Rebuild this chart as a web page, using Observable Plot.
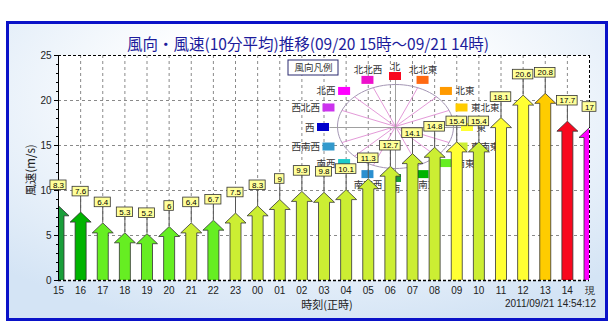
<!DOCTYPE html>
<html><head><meta charset="utf-8">
<script src="https://cdn.jsdelivr.net/npm/d3@7"></script>
<script src="https://cdn.jsdelivr.net/npm/@observablehq/plot@0.6"></script>
<style>
body{margin:0;background:#fff;}
#wrap{position:relative;width:616px;height:331px;overflow:hidden;font-family:"Noto Sans CJK JP",sans-serif;}
#frame{position:absolute;left:6px;top:21px;width:596px;height:294px;border:3px solid #0a12c8;
  background:radial-gradient(ellipse 75% 80% at 50% 25%, #ffffff 35%, #d4e4f5 100%);}
#chart{position:absolute;left:0;top:0;}
.t{position:absolute;white-space:nowrap;line-height:1;}
#title{left:0;width:616px;text-align:center;top:36px;font-size:15.5px;color:#1c1c9c;}
#ylab{left:31px;top:170px;font-size:11.5px;color:#222;transform:translate(-50%,-50%) rotate(-90deg);}
#xlab{left:327px;top:304px;font-size:11px;color:#222;transform:translate(-50%,-50%);}
#stamp{right:20px;top:299px;font-size:10px;color:#222;font-family:"Liberation Sans",Arial,sans-serif;}
</style></head>
<body>
<div id="wrap">
  <div id="frame"></div>
  <div id="chart"></div>
  <div class="t" id="title">風向・風速(10分平均)推移(09/20 15時～09/21 14時)</div>
  <div class="t" id="ylab">風速(m/s)</div>
  <div class="t" id="xlab">時刻(正時)</div>
  <div class="t" id="stamp">2011/09/21 14:54:12</div>
</div>
<script>
const hours = ["15","16","17","18","19","20","21","22","23","00","01","02","03","04","05","06","07","08","09","10","11","12","13","14","現"];
const speeds = [8.3,7.6,6.4,5.3,5.2,6,6.4,6.7,7.5,8.3,9,9.9,9.8,10.1,11.3,12.7,14.1,14.8,15.4,15.4,18.1,20.6,20.8,17.7,17];
const directions = ["南","南南東","南東","南東","南東","南東","東南東","南東","東南東","東南東","東南東","東南東","東南東","東南東","東南東","東南東","東南東","東南東","東","東南東","東","東","東北東","北","北西"];
const dirNames = ["北","北北東","北東","東北東","東","東南東","南東","南南東","南","南南西","南西","西南西","西","西北西","北西","北北西"];
const dirColors = ["#f8081e","#ff6a12","#ff9a00","#ffcc00","#ffff33","#ccee33","#66ee22","#00b400","#1a9e3a","#2a8fd0","#1ccaca","#3399cc","#0000cc","#cc33ee","#ff00ff","#ee11cc"];
const yTicks = [0,5,10,15,20,25];
const legendTitle = "風向凡例";

const W=616,H=331,mL=58,mR=27,mT=55,mB=51;
const n = hours.length;
const kx=(W-mL-mR)/(n-1), ky=(H-mT-mB)/25;
const X = px => (px-mL)/kx, Y = py => (H-mB-py)/ky;
const colorOf = d => dirColors[dirNames.indexOf(d)];

// arrows
const shaftHalf=5.5/kx, headHalf=10.5/kx, headLen=10/ky;
const arrowPts = speeds.flatMap((v,i)=>{
  const b=v-headLen, c=colorOf(directions[i]);
  return [[i-shaftHalf,0],[i-shaftHalf,b],[i-headHalf,b],[i,v],[i+headHalf,b],[i+shaftHalf,b],[i+shaftHalf,0],[i-shaftHalf,0]]
    .map(([x,y])=>({x,y,i,c}));
});
// value label boxes
const labelW = s => [...s].reduce((a,ch)=>a+(ch==="."?2.2:4.45),0)+5;
const boxes = speeds.map((v,i)=>{const s=String(v),hw=labelW(s)/2/kx,cy=v+20.5/ky;
  return {i,v,s,x1:i-hw,x2:i+hw,y1:cy-4.8/ky,y2:cy+4.8/ky,cy,top:cy-4.8/ky};});

// legend layout (pixel geometry converted to data units)
const lcx=395, lcy=126;
const ell = d3.range(0,361,4).map(a=>{const t=a*Math.PI/180;return {x:X(lcx+58*Math.sin(t)),y:Y(lcy-42*Math.cos(t))};});
const legend = dirNames.map((name,k)=>{
  const t=k*Math.PI/8, sx=lcx+72*Math.sin(t), sy=lcy+1-51*Math.cos(t);
  const side=(k<=1||k===15)?"top":(k<=6)?"right":(k<=9)?"bottom":"left";
  let tx=sx,ty=sy;
  if(side==="top") ty=sy-10; else if(side==="bottom") ty=sy+10;
  else if(side==="right") tx=sx+9; else tx=sx-9;
  return {name,side,color:dirColors[k],x1:X(sx-6),x2:X(sx+6),y1:Y(sy+4),y2:Y(sy-4),
    tx:X(tx),ty:Y(ty),ex:X(lcx+58*Math.sin(t)),ey:Y(lcy-42*Math.cos(t)),k};
});
const spokes = legend.filter(d=>d.k%4!==0);
const cross = [{x1:X(lcx),y1:Y(lcy-47),x2:X(lcx),y2:Y(lcy+48)},{x1:X(lcx-66),y1:Y(lcy+1),x2:X(lcx+66),y2:Y(lcy+1)}];
const dash={strokeDasharray:"3,3",stroke:"#8a8a8a",strokeOpacity:1};
const legText = {x:"tx",y:"ty",text:"name",fill:"#333",fontSize:9.5,fontFamily:"Noto Sans CJK JP"};

const chart = Plot.plot({
  width:W,height:H,marginLeft:mL,marginRight:mR,marginTop:mT,marginBottom:mB,
  x:{type:"linear",domain:[0,n-1]},
  y:{domain:[0,25]},
  color:{type:"identity"},
  style:{background:"transparent",fontFamily:"'Liberation Sans',Arial,sans-serif",fontSize:"10px",overflow:"visible"},
  marks:[
    Plot.frame({fill:"white",stroke:"none"}),
    Plot.gridX(d3.range(1,n-1),dash),
    Plot.gridY([5,10,15,20],dash),
    // legend
    Plot.line(ell,{x:"x",y:"y",stroke:"#9a8aac",strokeWidth:0.9}),
    Plot.link(spokes,{x1:X(lcx),y1:Y(lcy),x2:"ex",y2:"ey",stroke:"#e08ed4",strokeWidth:0.9}),
    Plot.link(cross,{x1:"x1",y1:"y1",x2:"x2",y2:"y2",stroke:"#a0a0a0",strokeWidth:1}),
    Plot.rect(legend,{x1:"x1",x2:"x2",y1:"y1",y2:"y2",fill:"color"}),
    Plot.text(legend.filter(d=>d.side==="top"||d.side==="bottom"),{...legText,textAnchor:"middle"}),
    Plot.text(legend.filter(d=>d.side==="right"),{...legText,textAnchor:"start"}),
    Plot.text(legend.filter(d=>d.side==="left"),{...legText,textAnchor:"end"}),
    Plot.rect([legendTitle],{x1:X(288),x2:X(338),y1:Y(75),y2:Y(60),fill:"white",stroke:"#2a2a70",strokeWidth:1}),
    Plot.text([legendTitle],{x:X(313),y:Y(67.5),text:d=>d,fill:"#333",fontSize:9.5,fontFamily:"Noto Sans CJK JP"}),
    // frame lines
    Plot.ruleY([25],{stroke:"#000",strokeDasharray:"3,2"}),
    Plot.ruleX([n-1],{stroke:"#000",strokeDasharray:"3,2"}),
    // axes
    Plot.axisY(yTicks,{tickSize:4,tickPadding:3,label:null,fill:"#222",stroke:"#000"}),
    Plot.axisY(d3.range(0,26),{tickSize:2,tickFormat:()=>"",label:null,stroke:"#000"}),
    Plot.axisX(d3.range(n),{tickFormat:i=>hours[i],tickSize:0,tickPadding:6,label:null,fill:"#222"}),
    // connectors
    Plot.ruleX(boxes,{x:"i",y1:"v",y2:"top",stroke:"#555",strokeWidth:1}),
    // arrows
    Plot.line(arrowPts,{x:"x",y:"y",z:"i",fill:"c",stroke:"#333",strokeWidth:0.8,strokeLinejoin:"miter",clip:true}),
    Plot.ruleY([0],{stroke:"#000",strokeDasharray:"3,2",strokeWidth:1.3}),
    Plot.ruleX([0],{stroke:"#000"}),
    // value boxes
    Plot.rect(boxes,{x1:"x1",x2:"x2",y1:"y1",y2:"y2",fill:"#ffff99",stroke:"#333",strokeWidth:0.8}),
    Plot.text(boxes,{x:"i",y:"cy",text:"s",fontSize:8,fill:"#000"})
  ]
});
document.getElementById("chart").appendChild(chart);
</script>
</body></html>
